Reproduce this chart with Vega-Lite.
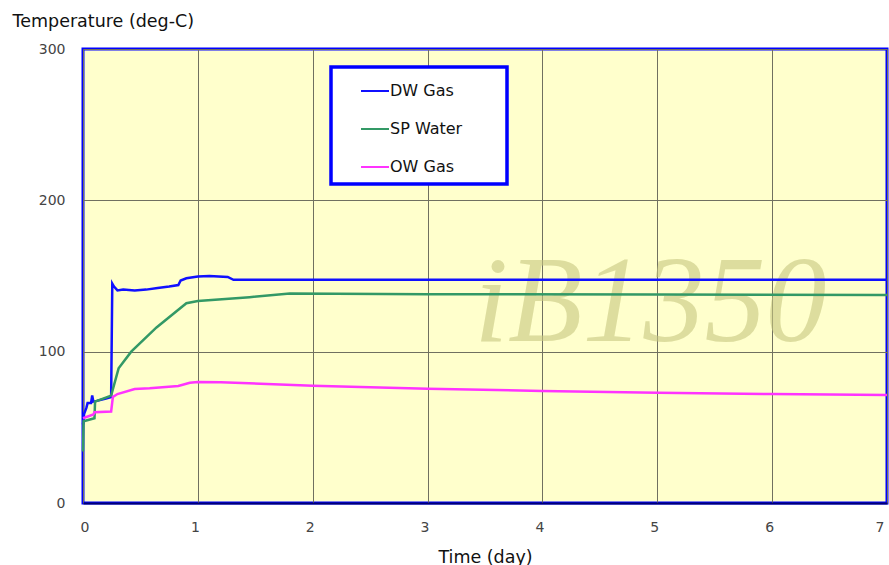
{
  "$schema": "https://vega.github.io/schema/vega-lite/v6.json",
  "width": 804,
  "height": 454,
  "padding": {"left": 12, "top": 12, "right": 0, "bottom": 0},
  "background": "white",
  "config": {
    "view": {"fill": "#ffffcc", "stroke": "#0000ff", "strokeWidth": 3},
    "font": "DejaVu Sans",
    "axis": {
      "labelFont": "DejaVu Sans",
      "labelFontSize": 14,
      "labelColor": "#444444",
      "titleFont": "DejaVu Sans",
      "titleFontSize": 17.5,
      "titleFontWeight": "normal",
      "titleColor": "#111111",
      "gridColor": "#707060",
      "gridWidth": 1,
      "gridOpacity": 1,
      "ticks": false
    }
  },
  "datasets": {
    "temps": [
      {"t": 0.0, "temp": 52, "series": "DW Gas"},
      {"t": 0.01, "temp": 59, "series": "DW Gas"},
      {"t": 0.03, "temp": 63, "series": "DW Gas"},
      {"t": 0.04, "temp": 66, "series": "DW Gas"},
      {"t": 0.07, "temp": 66, "series": "DW Gas"},
      {"t": 0.08, "temp": 71, "series": "DW Gas"},
      {"t": 0.09, "temp": 67, "series": "DW Gas"},
      {"t": 0.12, "temp": 67.5, "series": "DW Gas"},
      {"t": 0.2, "temp": 69, "series": "DW Gas"},
      {"t": 0.245, "temp": 70, "series": "DW Gas"},
      {"t": 0.255, "temp": 145, "series": "DW Gas"},
      {"t": 0.27, "temp": 143, "series": "DW Gas"},
      {"t": 0.3, "temp": 140.5, "series": "DW Gas"},
      {"t": 0.35, "temp": 141, "series": "DW Gas"},
      {"t": 0.45, "temp": 140.5, "series": "DW Gas"},
      {"t": 0.55, "temp": 141, "series": "DW Gas"},
      {"t": 0.65, "temp": 142, "series": "DW Gas"},
      {"t": 0.75, "temp": 143, "series": "DW Gas"},
      {"t": 0.83, "temp": 144, "series": "DW Gas"},
      {"t": 0.85, "temp": 147, "series": "DW Gas"},
      {"t": 0.9, "temp": 148.5, "series": "DW Gas"},
      {"t": 1.0, "temp": 149.6, "series": "DW Gas"},
      {"t": 1.1, "temp": 150, "series": "DW Gas"},
      {"t": 1.26, "temp": 149.4, "series": "DW Gas"},
      {"t": 1.31, "temp": 147.5, "series": "DW Gas"},
      {"t": 2.0, "temp": 147.5, "series": "DW Gas"},
      {"t": 4.0, "temp": 147.6, "series": "DW Gas"},
      {"t": 7.0, "temp": 147.5, "series": "DW Gas"},
      {"t": 0.0, "temp": 34, "series": "SP Water"},
      {"t": 0.005, "temp": 54, "series": "SP Water"},
      {"t": 0.1, "temp": 56, "series": "SP Water"},
      {"t": 0.105, "temp": 67, "series": "SP Water"},
      {"t": 0.245, "temp": 71, "series": "SP Water"},
      {"t": 0.31, "temp": 89, "series": "SP Water"},
      {"t": 0.42, "temp": 100, "series": "SP Water"},
      {"t": 0.64, "temp": 116, "series": "SP Water"},
      {"t": 0.9, "temp": 132, "series": "SP Water"},
      {"t": 1.0, "temp": 133.5, "series": "SP Water"},
      {"t": 1.45, "temp": 136, "series": "SP Water"},
      {"t": 1.8, "temp": 138.4, "series": "SP Water"},
      {"t": 3.0, "temp": 138, "series": "SP Water"},
      {"t": 5.0, "temp": 137.8, "series": "SP Water"},
      {"t": 7.0, "temp": 137.5, "series": "SP Water"},
      {"t": 0.0, "temp": 56, "series": "OW Gas"},
      {"t": 0.09, "temp": 58.5, "series": "OW Gas"},
      {"t": 0.1, "temp": 60, "series": "OW Gas"},
      {"t": 0.245, "temp": 60.5, "series": "OW Gas"},
      {"t": 0.26, "temp": 70, "series": "OW Gas"},
      {"t": 0.3, "temp": 72, "series": "OW Gas"},
      {"t": 0.45, "temp": 75.3, "series": "OW Gas"},
      {"t": 0.58, "temp": 75.8, "series": "OW Gas"},
      {"t": 0.83, "temp": 77.3, "series": "OW Gas"},
      {"t": 0.93, "temp": 79.5, "series": "OW Gas"},
      {"t": 1.0, "temp": 80, "series": "OW Gas"},
      {"t": 1.2, "temp": 79.8, "series": "OW Gas"},
      {"t": 2.0, "temp": 77.5, "series": "OW Gas"},
      {"t": 3.0, "temp": 75.5, "series": "OW Gas"},
      {"t": 4.0, "temp": 74, "series": "OW Gas"},
      {"t": 5.0, "temp": 72.8, "series": "OW Gas"},
      {"t": 6.0, "temp": 72, "series": "OW Gas"},
      {"t": 7.0, "temp": 71.4, "series": "OW Gas"}
    ],
    "mark": [
      {"t": 4.94, "temp": 107, "label": "iB1350"}
    ]
  },
  "layer": [
    {
      "data": {"name": "mark"},
      "mark": {
        "type": "text",
        "font": "Liberation Serif",
        "fontStyle": "italic",
        "fontSize": 122,
        "color": "#c8c880",
        "opacity": 0.6,
        "align": "center",
        "baseline": "alphabetic"
      },
      "encoding": {
        "x": {"field": "t", "type": "quantitative", "scale": {"domain": [0, 7], "nice": false}},
        "y": {"field": "temp", "type": "quantitative", "scale": {"domain": [0, 300], "nice": false}},
        "text": {"field": "label"}
      }
    },
    {
      "data": {"name": "temps"},
      "mark": {"type": "line", "strokeWidth": 2.5, "interpolate": "linear"},
      "encoding": {
        "x": {
          "field": "t",
          "type": "quantitative",
          "scale": {"domain": [0, 7], "nice": false},
          "axis": {
            "title": "Time (day)",
            "values": [0, 1, 2, 3, 4, 5, 6, 7],
            "format": "d",
            "labelPadding": 17,
            "labelOffset": -3,
            "domainColor": "#000070",
            "domainWidth": 2,
            "titlePadding": 14
          }
        },
        "y": {
          "field": "temp",
          "type": "quantitative",
          "scale": {"domain": [0, 300], "nice": false},
          "axis": {
            "title": "Temperature (deg-C)",
            "values": [0, 100, 200, 300],
            "domain": false,
            "labelPadding": 18,
            "titleAngle": 0,
            "titleAlign": "left",
            "titleBaseline": "middle",
            "titleX": -71,
            "titleY": -28
          }
        },
        "color": {
          "field": "series",
          "type": "nominal",
          "scale": {
            "domain": ["DW Gas", "SP Water", "OW Gas"],
            "range": ["#1010ff", "#339966", "#ff33ff"]
          },
          "legend": {
            "orient": "none",
            "legendX": 248,
            "legendY": 18,
            "title": null,
            "symbolType": "stroke",
            "symbolSize": 784,
            "symbolStrokeWidth": 2,
            "symbolOffset": 20,
            "labelFont": "DejaVu Sans",
            "labelFontSize": 16,
            "labelColor": "#111111",
            "labelOffset": 0,
            "labelExpr": "datum.label + '\u2800\u2800\u2800'",
            "fillColor": "white",
            "strokeColor": "#0000ff",
            "padding": 9,
            "rowPadding": 15,
            "encode": {"legend": {"update": {"strokeWidth": {"value": 3.5}}}}
          }
        }
      }
    }
  ]
}
